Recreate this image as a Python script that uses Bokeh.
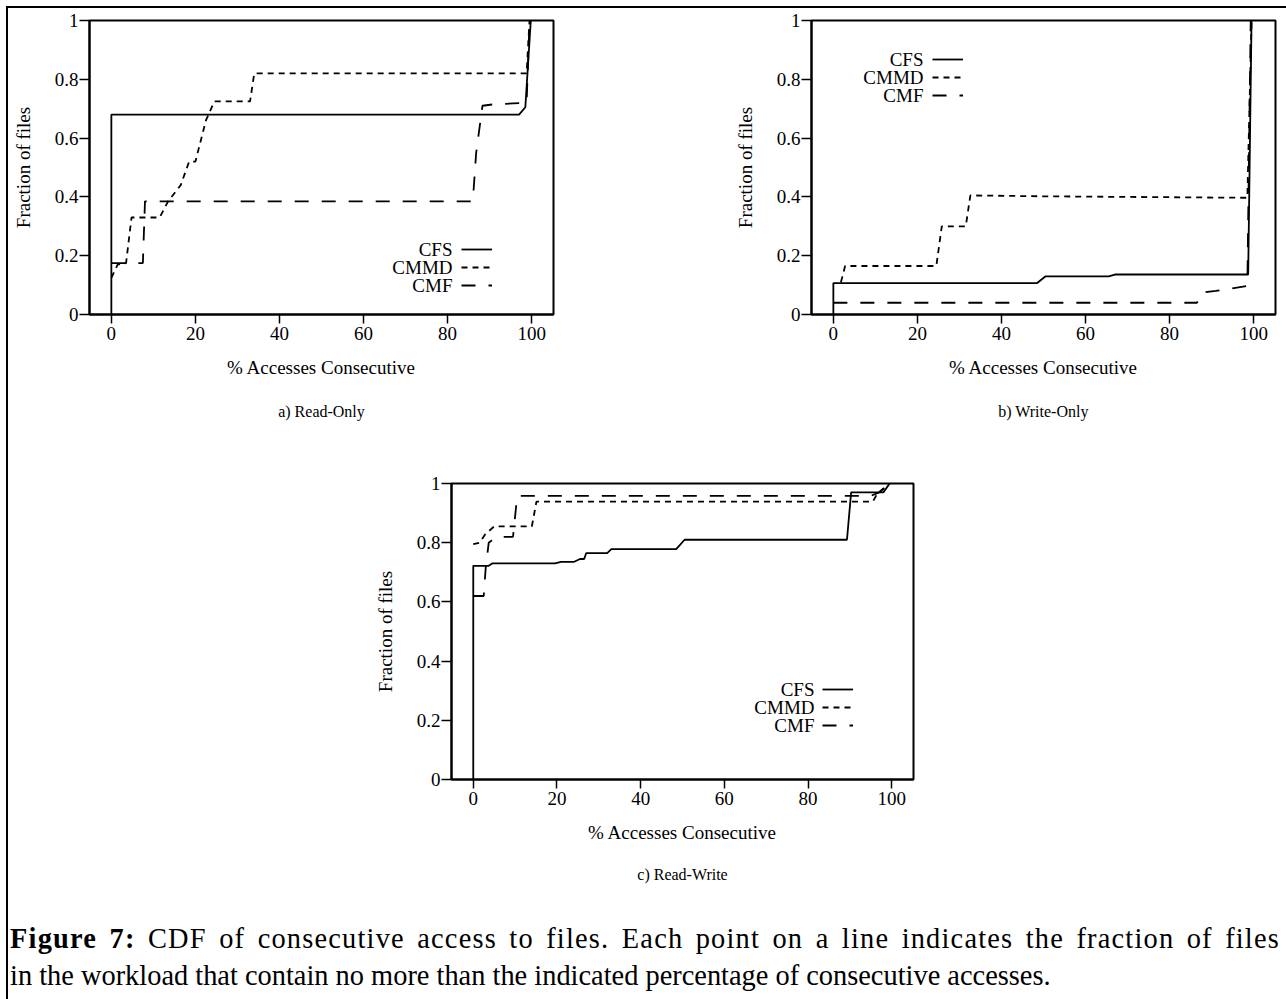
from bokeh.plotting import figure
from bokeh.models import Legend, LegendItem, Label, Div, Spacer, FixedTicker, Range1d, Title
from bokeh.layouts import column, row
from bokeh.embed import file_html
from bokeh.resources import INLINE

SERIES = ["CFS", "CMMD", "CMF"]
X_TICKS = [0, 20, 40, 60, 80, 100]
Y_TICKS = [0, 0.2, 0.4, 0.6, 0.8, 1]
Y_TICK_LABELS = {0: "0", 0.2: "0.2", 0.4: "0.4", 0.6: "0.6", 0.8: "0.8", 1: "1"}
X_LABEL = "% Accesses Consecutive"
Y_LABEL = "Fraction of files"
SUBTITLES = ["a) Read-Only", "b) Write-Only", "c) Read-Write"]

# a) Read-Only
a_cfs_x = [0, 0, 97, 98.5, 99.8]
a_cfs_y = [0, 0.68, 0.68, 0.705, 1.0]
a_cmmd_x = [0, 1.5, 3.5, 4.8, 11.5, 13.5, 16.5, 18.5, 20, 22.5, 24.5, 33, 34, 98.8, 99.5]
a_cmmd_y = [0.125, 0.17, 0.175, 0.33, 0.33, 0.385, 0.44, 0.52, 0.52, 0.66, 0.725, 0.725, 0.82, 0.82, 1.0]
a_cmf_x = [0, 7.5, 8, 86, 86.8, 88.3, 91, 98.8, 99.5]
a_cmf_y = [0.175, 0.175, 0.385, 0.385, 0.55, 0.71, 0.715, 0.72, 1.0]

# b) Write-Only
b_cfs_x = [0, 0, 48.5, 50.5, 65.5, 67, 98.7, 99.5]
b_cfs_y = [0, 0.107, 0.107, 0.13, 0.13, 0.136, 0.136, 1.0]
b_cmmd_x = [1.8, 2.8, 24.5, 25.8, 31.5, 32.6, 50, 98.5, 99.5]
b_cmmd_y = [0.11, 0.165, 0.165, 0.3, 0.3, 0.405, 0.402, 0.397, 1.0]
b_cmf_x = [0, 86.5, 88, 91, 98.5, 99.3]
b_cmf_y = [0.04, 0.04, 0.075, 0.08, 0.097, 1.0]

# c) Read-Write
c_cfs_x = [0, 0, 3.7, 4.5, 19.5, 21, 24, 25.5, 26.5, 27, 32, 33, 48.5, 50.5, 89.3, 90.3, 98, 99.5]
c_cfs_y = [0, 0.722, 0.722, 0.73, 0.73, 0.735, 0.735, 0.745, 0.745, 0.765, 0.765, 0.778, 0.778, 0.81, 0.81, 0.97, 0.97, 1.0]
c_cmmd_x = [0, 1.5, 2.9, 5, 14, 15.1, 95.5, 96.5, 99.5]
c_cmmd_y = [0.795, 0.8, 0.829, 0.855, 0.855, 0.939, 0.939, 0.965, 1.0]
c_cmf_x = [0, 2.5, 3, 3.7, 5.5, 9.5, 10.5, 95, 97, 99.5]
c_cmf_y = [0.62, 0.62, 0.72, 0.8, 0.82, 0.82, 0.958, 0.958, 0.97, 1.0]

CAPTION_BOLD = "Figure 7:"
CAPTION_LINE1 = "CDF of consecutive access to files. Each point on a line indicates the fraction of files"
CAPTION_LINE2 = "in the workload that contain no more than the indicated percentage of consecutive accesses."

FONT = "Liberation Serif"
DASHES = {"CFS": "solid", "CMMD": "6 5", "CMF": "14 13"}
X0, X1 = -5.2, 105.2
ROW_H = 18


def panel(data, subtitle, sub_standoff, leg_left, leg_bottom, text_right, fw, fh, left, right, top, bottom):
    p = figure(frame_width=fw, frame_height=fh, min_border_left=left, min_border_right=right,
               min_border_top=top, min_border_bottom=bottom,
               x_range=Range1d(X0, X1), y_range=Range1d(0, 1),
               output_backend="svg", toolbar_location=None)
    p.xgrid.visible = False
    p.ygrid.visible = False
    p.outline_line_color = "black"
    p.outline_line_width = 2
    p.background_fill_color = "white"
    p.border_fill_color = "white"
    items = []
    for name, (xs, ys) in zip(SERIES, data):
        r = p.line(xs, ys, line_color="black", line_width=1.8, line_dash=DASHES[name])
        items.append(LegendItem(label=name, renderers=[r]))
    for ax in (p.xaxis[0], p.yaxis[0]):
        ax.axis_line_color = "black"
        ax.axis_line_width = 2
        ax.major_tick_line_color = "black"
        ax.major_tick_line_width = 1.5
        ax.major_tick_in = 0
        ax.minor_tick_line_color = None
        ax.major_label_text_font = FONT
        ax.major_label_text_font_size = "19px"
        ax.major_label_text_color = "black"
        ax.axis_label_text_font = FONT
        ax.axis_label_text_font_size = "19px"
        ax.axis_label_text_font_style = "normal"
        ax.axis_label_text_color = "black"
    p.xaxis.ticker = FixedTicker(ticks=X_TICKS)
    p.yaxis.ticker = FixedTicker(ticks=Y_TICKS)
    p.yaxis.major_label_overrides = Y_TICK_LABELS
    p.xaxis.major_tick_out = 9
    p.yaxis.major_tick_out = 10
    p.xaxis.major_label_standoff = 3
    p.yaxis.major_label_standoff = 1
    p.xaxis.axis_label = X_LABEL
    p.xaxis.axis_label_standoff = 14
    p.yaxis.axis_label = Y_LABEL
    p.yaxis.axis_label_standoff = 18
    p.add_layout(Title(text=subtitle, align="center", text_font=FONT, text_font_size="16px",
                       text_font_style="normal", text_color="black", standoff=sub_standoff), "below")
    # legend: glyph samples from the renderers, names drawn to their left
    leg = Legend(items=items, location=(leg_left, leg_bottom), glyph_width=31, glyph_height=ROW_H,
                 label_height=ROW_H, label_width=0, label_standoff=0, spacing=0, padding=0,
                 margin=0, border_line_color=None, background_fill_alpha=0,
                 label_text_color=None, label_text_font_size="10px")
    p.add_layout(leg)
    for i, name in enumerate(SERIES):
        px_from_bottom = leg_bottom + ROW_H * (len(SERIES) - i) - ROW_H / 2
        p.add_layout(Label(x=X0 + text_right * (X1 - X0) / fw, y=px_from_bottom / fh,
                           text=name, text_align="right", text_baseline="middle",
                           text_font=FONT, text_font_size="19px", text_color="black"))
    return p


pa = panel([(a_cfs_x, a_cfs_y), (a_cmmd_x, a_cmmd_y), (a_cmf_x, a_cmf_y)], SUBTITLES[0], 40,
           372, 20, 363, 464, 294, 81, 177, 12, 125)
pb = panel([(b_cfs_x, b_cfs_y), (b_cmmd_x, b_cmmd_y), (b_cmf_x, b_cmf_y)], SUBTITLES[1], 40,
           121, 210, 112, 464, 294, 81, 3, 12, 125)
pc = panel([(c_cfs_x, c_cfs_y), (c_cmmd_x, c_cmmd_y), (c_cmf_x, c_cmf_y)], SUBTITLES[2], 36,
           371, 45, 363, 462, 296, 81, 10, 44, 126)

cap_html = (
    f'<div style="font-family:\'{FONT}\'; font-size:28.4px; line-height:37px; color:black; '
    f'width:1270px; padding-top:10px; margin-left:-3px">'
    f'<div style="text-align:justify; text-align-last:justify; white-space:nowrap; letter-spacing:1.2px">'
    f'<b>{CAPTION_BOLD}</b> {CAPTION_LINE1}</div>'
    f'<div style="white-space:nowrap">{CAPTION_LINE2}</div></div>'
)
cap = Div(text=cap_html, width=1270, height=85)

root = column(
    row(pa, pb),
    row(Spacer(width=362, height=466), pc),
    cap,
    styles={"border-left": "2px solid black", "border-top": "2px solid black",
            "margin-left": "6px", "margin-top": "6px"},
)

open("out.html", "w").write(file_html(root, INLINE))
